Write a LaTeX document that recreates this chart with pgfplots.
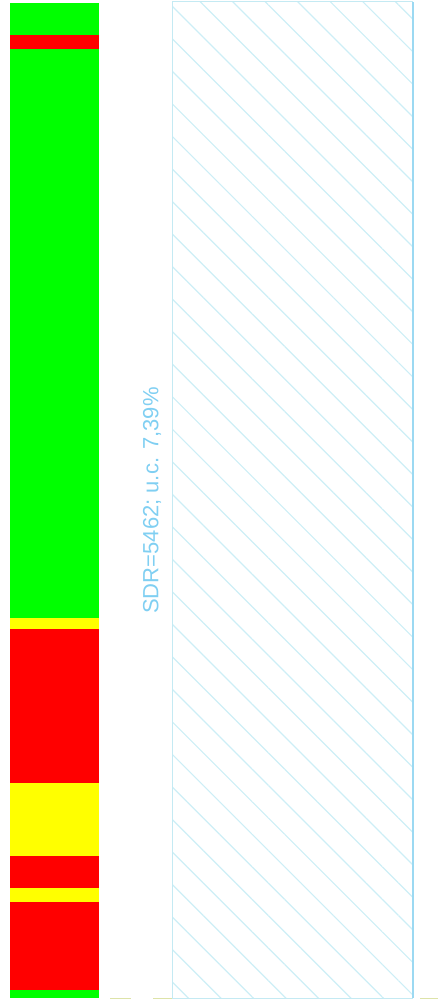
\documentclass[border=0pt]{standalone}
\usepackage{pgfplots}
\pgfplotsset{compat=1.18}
\usepackage{fontspec}
\setmainfont{Liberation Sans}
\usetikzlibrary{patterns.meta}
\definecolor{cgreen}{HTML}{00FF00}
\definecolor{cred}{HTML}{FF0000}
\definecolor{cyellow}{HTML}{FFFF00}
\definecolor{hatch}{HTML}{CDEEF6}
\definecolor{rborder}{HTML}{9CD9F2}
\definecolor{lborder}{HTML}{C4EAF3}
\definecolor{txtblue}{HTML}{80CFF2}
\definecolor{cbase}{HTML}{DDE3A8}
\begin{document}
\begin{tikzpicture}
\pgfplotsset{every axis/.style={scale only axis, width=438pt, height=1005pt,
  xmin=0, xmax=438, ymin=-6.5, ymax=998.5, hide axis, clip=false}}
% stacked bar (segment heights, bottom to top)
\begin{axis}[ybar stacked, bar width=89]
\addplot[fill=cgreen, draw=none] coordinates {(54.5,8.2)};
\addplot[fill=cred, draw=none] coordinates {(54.5,88.6)};
\addplot[fill=cyellow, draw=none] coordinates {(54.5,13.4)};
\addplot[fill=cred, draw=none] coordinates {(54.5,32.3)};
\addplot[fill=cyellow, draw=none] coordinates {(54.5,72.7)};
\addplot[fill=cred, draw=none] coordinates {(54.5,154)};
\addplot[fill=cyellow, draw=none] coordinates {(54.5,11)};
\addplot[fill=cgreen, draw=none] coordinates {(54.5,569.6)};
\addplot[fill=cred, draw=none] coordinates {(54.5,13.4)};
\addplot[fill=cgreen, draw=none] coordinates {(54.5,31.8)};
\end{axis}
% hatched region, borders, baseline pieces, label
\begin{axis}
\addplot[draw=none, pattern={Lines[angle=-45,distance=23pt,line width=1.2pt]}, pattern color=hatch]
  coordinates {(172,0) (413,0) (413,996.8) (172,996.8)} -- cycle;
\addplot[lborder, line width=0.8pt] coordinates {(413,0) (172,0) (172,996.8) (413,996.8)};
\addplot[rborder, line width=2pt] coordinates {(413,0) (413,996.8)};
\addplot[cbase, line width=1pt] coordinates {(110,0) (131,0)};
\addplot[cbase, line width=1pt] coordinates {(153,0) (172,0)};
\addplot[cbase, line width=1pt] coordinates {(420,0) (438,0)};
\node[rotate=90, text=txtblue, font=\fontsize{22}{26}\selectfont, inner sep=0pt]
  at (axis cs:152,498) {SDR=5462; u.c. 7,39\%};
\end{axis}
\pgfresetboundingbox
\path (0,0) rectangle (438pt,1005pt);
\end{tikzpicture}
\end{document}
